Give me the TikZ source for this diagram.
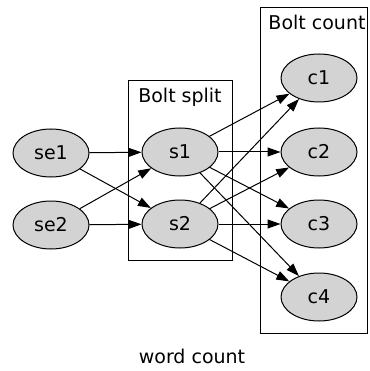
\documentclass[tikz,border=0pt]{standalone}
\usepackage{fontspec}
\setmainfont{DejaVu Sans}
\usetikzlibrary{shapes.geometric,arrows.meta}
\definecolor{nodegray}{HTML}{D3D3D3}
\begin{document}
\begin{tikzpicture}[x=1pt,y=-1pt,
  vert/.style={ellipse,draw=black,fill=nodegray,line width=1pt,minimum width=76pt,minimum height=48pt,inner sep=0pt,font=\fontsize{19}{22}\selectfont},
  cluster/.style={draw=black,line width=1pt},
  edge/.style={line width=1pt,-{Triangle[length=13pt,width=9pt]}},
  lbl/.style={font=\fontsize{19}{22}\selectfont,inner sep=0pt}]
\useasboundingbox (0,0) rectangle (369,371);
% clusters
\draw[cluster] (128,81) rectangle (232,260);
\draw[cluster] (260,8) rectangle (367.5,333);
\node[lbl] (lsplit) at (180,97) {Bolt split};
\node[lbl] (lcount) at (317,22) {Bolt count};
% nodes
\node[vert] (se1) at (51,153) {se1};
\node[vert] (se2) at (51,225) {se2};
\node[vert] (s1) at (180,152) {s1};
\node[vert] (s2) at (180,224) {s2};
\node[vert] (c1) at (319,78) {c1};
\node[vert] (c2) at (319,152) {c2};
\node[vert] (c3) at (319,224) {c3};
\node[vert] (c4) at (319,297) {c4};
% edges
\draw[edge] (se1) -- (s1);
\draw[edge] (se1) -- (s2);
\draw[edge] (se2) -- (s1);
\draw[edge] (se2) -- (s2);
\foreach \a in {s1,s2}{
  \foreach \b in {c1,c2,c3,c4}{
    \draw[edge] (\a) -- (\b);
  }
}
\node[lbl] (title) at (192,356) {word count};
\end{tikzpicture}
\end{document}
